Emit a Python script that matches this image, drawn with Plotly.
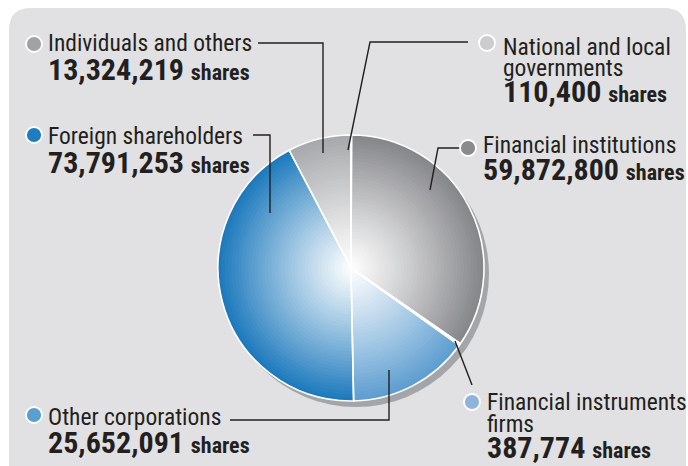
import plotly.graph_objects as go

W, H = 688, 466

# data (clockwise from 12 o'clock)
categories = ["National and local governments", "Financial institutions",
              "Financial instruments firms", "Other corporations",
              "Foreign shareholders", "Individuals and others"]
shares = [110400, 59872800, 387774, 25652091, 73791253, 13324219]
edge_colors = ["#c9cacc", "#86878b", "#8fb4db", "#5e9ed1", "#1d7abd", "#a7a9ac"]
bullet_colors = ["#cbcccd", "#8a8b8f", "#8fb4db", "#5b9ed0", "#1f7dbf", "#a0a2a5"]

FONT = "Roboto Condensed, Roboto, Liberation Sans, sans-serif"
INK = "#231f20"
LBL, NUM, SHR = 23.5, 30, 22


def px(x):
    return x / W


def py(y):
    return 1 - y / H


def mix(c, t):
    # blend white -> c by t
    r, g, b = int(c[1:3], 16), int(c[3:5], 16), int(c[5:7], 16)
    return "rgb(%d,%d,%d)" % (255 + (r - 255) * t, 255 + (g - 255) * t, 255 + (b - 255) * t)


def dom(cx, cy, r):
    return dict(x=[px(cx - r), px(cx + r)], y=[py(cy + r), py(cy - r)])


cx, cy, R = 351, 268, 133

fig = go.Figure()

# shadow
fig.add_trace(go.Pie(values=[1], marker=dict(colors=["#a4a5a8"], line=dict(width=0)),
                     domain=dom(cx + 5, cy + 6, R), textinfo="none", hoverinfo="skip",
                     showlegend=False, sort=False))

# radial gradient made of stacked pies
N = 40
for k in range(N):
    r = R * (N - k) / N
    t = ((N - k) / N) ** 1.1
    fig.add_trace(go.Pie(values=shares, labels=categories, sort=False, direction="clockwise",
                         marker=dict(colors=[mix(c, t) for c in edge_colors], line=dict(width=0)),
                         domain=dom(cx, cy, r), textinfo="none", hoverinfo="skip",
                         showlegend=False))

# white slice borders
fig.add_trace(go.Pie(values=shares, labels=categories, sort=False, direction="clockwise",
                     marker=dict(colors=["rgba(0,0,0,0)"] * 6, line=dict(color="white", width=1.6)),
                     domain=dom(cx, cy, R), textinfo="none", hoverinfo="skip", showlegend=False))

shapes = []

# panel with rounded top corners
L, T, Rt, rad = 9, 8, 686, 22
path = ("M %f,%f L %f,%f Q %f,%f %f,%f L %f,%f Q %f,%f %f,%f L %f,%f Z" % (
    px(L), py(H + 20), px(L), py(T + rad), px(L), py(T), px(L + rad), py(T),
    px(Rt - rad), py(T), px(Rt), py(T), px(Rt), py(T + rad), px(Rt), py(H + 20)))
shapes.append(dict(type="path", path=path, xref="paper", yref="paper",
                   fillcolor="#e1e1e3", line=dict(width=0), layer="below"))

# leader lines
leaders = [
    [(258, 43), (323, 43), (323, 153)],
    [(468, 42), (370, 42), (348, 150)],
    [(460, 148), (438, 148), (430, 190)],
    [(253, 135), (270, 135), (270, 213)],
    [(472, 385), (455, 341)],
    [(230, 420), (389, 420), (389, 370)],
]
for pts in leaders:
    d = "M " + " L ".join("%f,%f" % (px(x), py(y)) for x, y in pts)
    shapes.append(dict(type="path", path=d, xref="paper", yref="paper",
                       line=dict(color=INK, width=1.4)))

# label blocks: bullet center, text x, label lines with baselines, number baseline
blocks = [
    (5, (34, 44), 48, [("Individuals and others", 51)], 80),
    (4, (34, 135), 48, [("Foreign shareholders", 144)], 173),
    (0, (487, 43), 503, [("National and local", 55), ("governments", 76)], 102),
    (1, (468, 148), 483, [("Financial institutions", 153)], 180),
    (2, (472, 402), 487, [("Financial instruments", 410), ("firms", 432)], 458),
    (3, (34, 415), 48, [("Other corporations", 425)], 453),
]

annotations = []
for i, (bx, by), tx, lines, nb in blocks:
    br = 8
    shapes.append(dict(type="circle", xref="paper", yref="paper",
                       x0=px(bx - br), x1=px(bx + br), y0=py(by + br), y1=py(by - br),
                       fillcolor=bullet_colors[i], line=dict(color="white", width=1.8)))
    for txt, base in lines:
        annotations.append(dict(x=px(tx - 2), y=py(base - 0.35 * LBL), xref="paper", yref="paper",
                                text=txt, showarrow=False, xanchor="left", yanchor="middle",
                                font=dict(family=FONT, size=LBL, color=INK)))
    annotations.append(dict(x=px(tx - 2), y=py(nb - 0.35 * NUM), xref="paper", yref="paper",
                            text="<b>%s</b> <b><span style='font-size:%dpx'>shares</span></b>"
                                 % (format(shares[i], ","), SHR),
                            showarrow=False, xanchor="left", yanchor="middle",
                            font=dict(family=FONT, size=NUM, color=INK)))

fig.update_layout(width=W, height=H, margin=dict(l=0, r=0, t=0, b=0),
                  paper_bgcolor="white", shapes=shapes, annotations=annotations,
                  showlegend=False)

# drop the default page margin so the figure fills the window exactly
fig.write_html("out.html", config={"displayModeBar": False},
               post_script="document.body.style.margin='0';document.body.style.overflow='hidden';")
